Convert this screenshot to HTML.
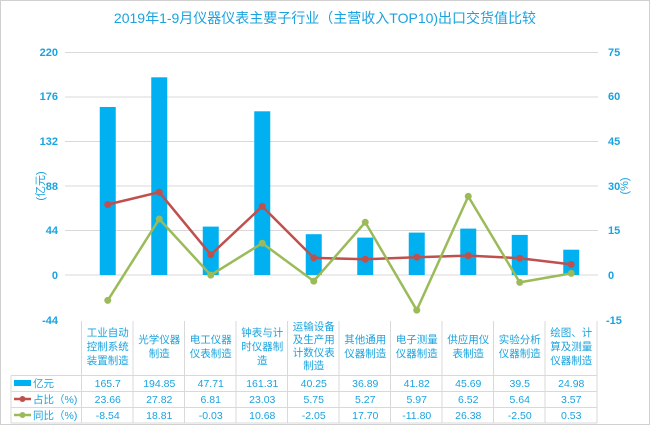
<!DOCTYPE html>
<html><head><meta charset="utf-8"><style>
body{margin:0;background:#fff}
svg{display:block;font-family:"Liberation Sans","Noto Sans CJK SC",sans-serif}
</style></head><body>
<svg width="650" height="425" viewBox="0 0 650 425">
<rect x="0.5" y="0.5" width="649" height="424" fill="#fff" stroke="#d0d0d0"/>
<text x="325" y="23" text-anchor="middle" font-size="14" fill="#1aa3de">2019年1-9月仪器仪表主要子行业（主营收入TOP10)出口交货值比较</text>
<g stroke="#d9d9d9" stroke-width="1">
<line x1="65" x2="598" y1="52.5" y2="52.5"/><line x1="65" x2="598" y1="97" y2="97"/>
<line x1="65" x2="598" y1="141.5" y2="141.5"/><line x1="65" x2="598" y1="186" y2="186"/>
<line x1="65" x2="598" y1="230.5" y2="230.5"/><line x1="65" x2="598" y1="275" y2="275"/>
</g>
<g font-size="11" font-weight="bold" fill="#1aa3de" text-anchor="end">
<text x="58" y="56">220</text><text x="58" y="100">176</text><text x="58" y="145">132</text><text x="58" y="190">88</text><text x="58" y="234">44</text><text x="58" y="279">0</text><text x="58" y="324">-44</text>
</g>
<g font-size="11" font-weight="bold" fill="#1aa3de" text-anchor="start">
<text x="608" y="56">75</text><text x="608" y="100">60</text><text x="608" y="145">45</text><text x="608" y="190">30</text><text x="608" y="234">15</text><text x="608" y="279">0</text><text x="606" y="324">-15</text>
</g>
<text transform="translate(44,186) rotate(-90)" text-anchor="middle" font-size="11" fill="#1aa3de">(亿元)</text>
<text transform="translate(628,186) rotate(-90)" text-anchor="middle" font-size="11" fill="#1aa3de">(%)</text>
<g fill="#00b0f0">
<rect x="99.75" y="107" width="16" height="168"/>
<rect x="151.25" y="77.3" width="16" height="197.7"/>
<rect x="202.75" y="226.6" width="16" height="48.4"/>
<rect x="254.25" y="111.3" width="16" height="163.7"/>
<rect x="305.75" y="234.2" width="16" height="40.8"/>
<rect x="357.25" y="237.6" width="16" height="37.4"/>
<rect x="408.75" y="232.6" width="16" height="42.4"/>
<rect x="460.25" y="228.6" width="16" height="46.4"/>
<rect x="511.75" y="234.9" width="16" height="40.1"/>
<rect x="563.25" y="249.7" width="16" height="25.3"/>
</g>
<polyline fill="none" stroke="#c0504d" stroke-width="2.5" points="107.75,204.5 159.25,192.2 210.75,254.7 262.25,206.4 313.75,257.9 365.25,259.3 416.75,257.2 468.25,255.6 519.75,258.2 571.25,264.4"/>
<g fill="#c0504d"><circle cx="107.75" cy="204.5" r="3.5"/><circle cx="159.25" cy="192.2" r="3.5"/><circle cx="210.75" cy="254.7" r="3.5"/><circle cx="262.25" cy="206.4" r="3.5"/><circle cx="313.75" cy="257.9" r="3.5"/><circle cx="365.25" cy="259.3" r="3.5"/><circle cx="416.75" cy="257.2" r="3.5"/><circle cx="468.25" cy="255.6" r="3.5"/><circle cx="519.75" cy="258.2" r="3.5"/><circle cx="571.25" cy="264.4" r="3.5"/></g>
<polyline fill="none" stroke="#9bbb59" stroke-width="2.5" points="107.75,300.4 159.25,219 210.75,275.1 262.25,243.2 313.75,281.1 365.25,222.3 416.75,310.1 468.25,196.4 519.75,282.4 571.25,273.4"/>
<g fill="#9bbb59"><circle cx="107.75" cy="300.4" r="3.5"/><circle cx="159.25" cy="219" r="3.5"/><circle cx="210.75" cy="275.1" r="3.5"/><circle cx="262.25" cy="243.2" r="3.5"/><circle cx="313.75" cy="281.1" r="3.5"/><circle cx="365.25" cy="222.3" r="3.5"/><circle cx="416.75" cy="310.1" r="3.5"/><circle cx="468.25" cy="196.4" r="3.5"/><circle cx="519.75" cy="282.4" r="3.5"/><circle cx="571.25" cy="273.4" r="3.5"/></g>
<g stroke="#d9d9d9" stroke-width="1" fill="none">
<line x1="81.5" y1="321" x2="81.5" y2="423"/>
<line x1="133" y1="321" x2="133" y2="423"/><line x1="184.5" y1="321" x2="184.5" y2="423"/>
<line x1="236" y1="321" x2="236" y2="423"/><line x1="287.5" y1="321" x2="287.5" y2="423"/>
<line x1="339" y1="321" x2="339" y2="423"/><line x1="390.5" y1="321" x2="390.5" y2="423"/>
<line x1="442" y1="321" x2="442" y2="423"/><line x1="493.5" y1="321" x2="493.5" y2="423"/>
<line x1="545" y1="321" x2="545" y2="423"/><line x1="597" y1="321" x2="597" y2="423"/>
<line x1="11" y1="375.5" x2="597" y2="375.5"/><line x1="11" y1="391.5" x2="597" y2="391.5"/>
<line x1="11" y1="407.5" x2="597" y2="407.5"/><line x1="11" y1="423" x2="597" y2="423"/>
<line x1="11" y1="375.5" x2="11" y2="423"/>
</g>
<g font-size="10.5" fill="#1aa3de" text-anchor="middle">
<text x="107.75" y="336">工业自动</text><text x="107.75" y="350">控制系统</text><text x="107.75" y="364">装置制造</text>
<text x="159.25" y="343">光学仪器</text><text x="159.25" y="357">制造</text>
<text x="210.75" y="343">电工仪器</text><text x="210.75" y="357">仪表制造</text>
<text x="262.25" y="336">钟表与计</text><text x="262.25" y="350">时仪器制</text><text x="262.25" y="364">造</text>
<text x="313.75" y="330">运输设备</text><text x="313.75" y="343">及生产用</text><text x="313.75" y="356">计数仪表</text><text x="313.75" y="369">制造</text>
<text x="365.25" y="343">其他通用</text><text x="365.25" y="357">仪器制造</text>
<text x="416.75" y="343">电子测量</text><text x="416.75" y="357">仪器制造</text>
<text x="468.25" y="343">供应用仪</text><text x="468.25" y="357">表制造</text>
<text x="519.75" y="343">实验分析</text><text x="519.75" y="357">仪器制造</text>
<text x="571.25" y="336">绘图、计</text><text x="571.25" y="350">算及测量</text><text x="571.25" y="364">仪器制造</text>
</g>
<g font-size="10.5" fill="#1aa3de" text-anchor="middle">
<text x="107.75" y="387">165.7</text><text x="159.25" y="387">194.85</text><text x="210.75" y="387">47.71</text><text x="262.25" y="387">161.31</text><text x="313.75" y="387">40.25</text><text x="365.25" y="387">36.89</text><text x="416.75" y="387">41.82</text><text x="468.25" y="387">45.69</text><text x="519.75" y="387">39.5</text><text x="571.25" y="387">24.98</text>
<text x="107.75" y="403">23.66</text><text x="159.25" y="403">27.82</text><text x="210.75" y="403">6.81</text><text x="262.25" y="403">23.03</text><text x="313.75" y="403">5.75</text><text x="365.25" y="403">5.27</text><text x="416.75" y="403">5.97</text><text x="468.25" y="403">6.52</text><text x="519.75" y="403">5.64</text><text x="571.25" y="403">3.57</text>
<text x="107.75" y="419">-8.54</text><text x="159.25" y="419">18.81</text><text x="210.75" y="419">-0.03</text><text x="262.25" y="419">10.68</text><text x="313.75" y="419">-2.05</text><text x="365.25" y="419">17.70</text><text x="416.75" y="419">-11.80</text><text x="468.25" y="419">26.38</text><text x="519.75" y="419">-2.50</text><text x="571.25" y="419">0.53</text>
</g>
<rect x="14" y="380" width="17" height="6" fill="#00b0f0"/>
<line x1="14" y1="399" x2="31" y2="399" stroke="#c0504d" stroke-width="2.5"/><circle cx="22.5" cy="399" r="3" fill="#c0504d"/>
<line x1="14" y1="415" x2="31" y2="415" stroke="#9bbb59" stroke-width="2.5"/><circle cx="22.5" cy="415" r="3" fill="#9bbb59"/>
<g font-size="10.5" fill="#1aa3de">
<text x="33" y="387">亿元</text><text x="33" y="403">占比（%)</text><text x="33" y="419">同比（%)</text>
</g>
</svg>
</body></html>
